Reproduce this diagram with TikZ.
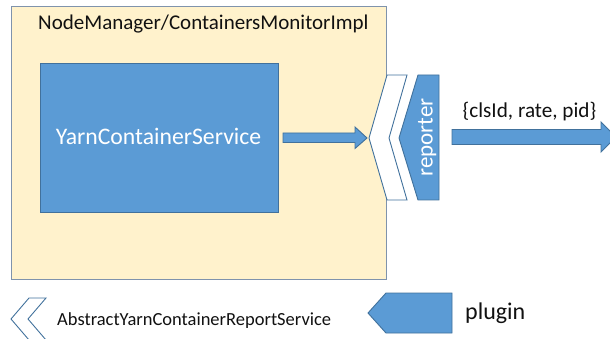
\documentclass[tikz,border=0pt]{standalone}
\usepackage{fontspec}
\setmainfont{Carlito}
\definecolor{boxblue}{HTML}{5B9BD5}
\definecolor{edgeblue}{HTML}{41719C}
\definecolor{paleyellow}{HTML}{FFF2CC}
\definecolor{framegray}{HTML}{7F93AC}
\definecolor{textdark}{HTML}{111111}
\tikzset{
  blockfill/.style={fill=boxblue, draw=edgeblue, line width=0.9pt, line join=miter},
  hollow/.style={fill=white, draw=edgeblue, line width=0.9pt, line join=miter},
  label/.style={inner sep=0pt, text=textdark},
  whitelabel/.style={inner sep=0pt, text=white}
}
\begin{document}
\begin{tikzpicture}[x=1pt, y=-1pt]
\useasboundingbox (0,0) rectangle (610,339);

% container process
\node[fill=paleyellow, draw=framegray, line width=1.1pt, minimum width=375pt,
      minimum height=273pt, inner sep=0pt, anchor=north west] (monitor) at (11,6) {};
\node[label, anchor=base west, font=\fontsize{21}{24}\selectfont] (title) at (38,29.5)
  {NodeManager/ContainersMonitorImpl};

% the service inside it
\node[blockfill, minimum width=238pt, minimum height=149pt, inner sep=0pt,
      anchor=north west] (service) at (40,63) {};
\node[whitelabel, anchor=base, font=\fontsize{23.7}{26}\selectfont] (servicetext) at (158.5,145)
  {YarnContainerService};

% feed from the service into the report service
\coordinate (feedstart) at (283,138);
\draw[blockfill] (feedstart) ++(0,-5) -- ++(72,0) -- ++(0,-6) -- (367,138)
  -- (355,148.5) -- ++(0,-6) -- ++(-72,0) -- cycle;

% abstract report service (hollow chevron)
\draw[hollow] (387,75) -- (407,75) -- (389,138) -- (407,200) -- (387,200) -- (369,138) -- cycle;
\coordinate (chevron) at (388,138);

% reporter plugin
\draw[blockfill] (418,75) -- (439,75) -- (439,200) -- (418,200) -- (399,138) -- cycle;
\node[whitelabel, anchor=base, rotate=90, font=\fontsize{23}{26}\selectfont] (reporter) at (432.5,137.5)
  {reporter};

% output
\draw[blockfill] (452,129.5) -- (601,129.5) -- (601,122) -- (616,137) -- (601,152)
  -- (601,144.5) -- (452,144.5) -- cycle;
\node[label, anchor=base, font=\fontsize{21.2}{24}\selectfont] (payload) at (529.5,118)
  {\{clsId, rate, pid\}};

% legend
\draw[hollow] (29,298) -- (46,298) -- (28,319) -- (46,340) -- (29,340) -- (11,319) -- cycle;
\node[label, anchor=base west, font=\fontsize{18.5}{21}\selectfont] (abstractlabel) at (57,325)
  {AbstractYarnContainerReportService};

\draw[blockfill] (386,293) -- (452,293) -- (452,333) -- (386,333) -- (368,313) -- cycle;
\node[label, anchor=base west, font=\fontsize{24}{27}\selectfont] (pluginlabel) at (465,319)
  {plugin};
\end{tikzpicture}
\end{document}
